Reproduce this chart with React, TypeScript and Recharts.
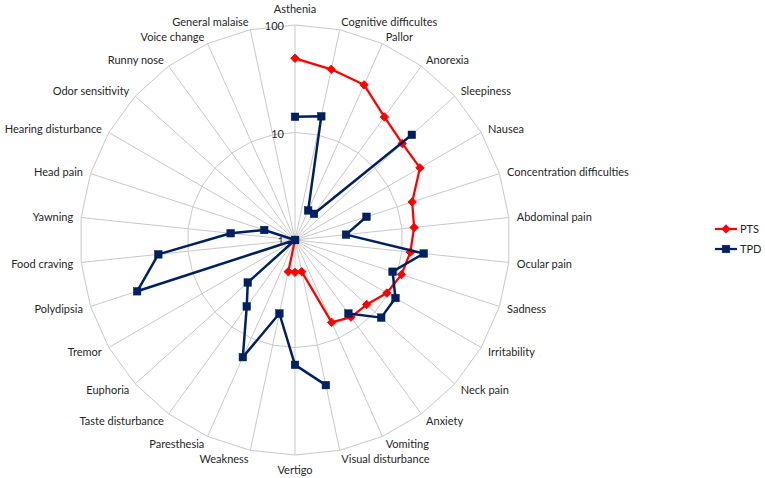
import React from 'react';
import { RadarChart, Radar, PolarGrid, PolarAngleAxis, PolarRadiusAxis, Legend } from 'recharts';

const symptoms = [
  'Asthenia', 'Cognitive difficultes', 'Pallor', 'Anorexia', 'Sleepiness', 'Nausea',
  'Concentration difficulties', 'Abdominal pain', 'Ocular pain', 'Sadness', 'Irritability',
  'Neck pain', 'Anxiety', 'Vomiting', 'Visual disturbance', 'Vertigo', 'Weakness',
  'Paresthesia', 'Taste disturbance', 'Euphoria', 'Tremor', 'Polydipsia', 'Food craving',
  'Yawning', 'Head pain', 'Hearing disturbance', 'Odor sensitivity', 'Runny nose',
  'Voice change', 'General malaise',
];

const ptsValues: (number | null)[] = [
  49, 42, 38, 26, 22, 22, 14, 13, 12, 11, 9.7, 7.9, 7.7, 6.9, 2, 2, 2, 1,
  null, null, null, null, null, null, null, null, null, null, null, null,
];

const tpdValues: (number | null)[] = [
  14, 15, 2, 2, 29, null, 5, 3, 16, 9, 12, 12, 7, null, 24, 14.5, 5, 15.6,
  5.8, 3.9, 1, 35, 19, 4, 2, 1, null, null, null, null,
];

const radiusTickLabels = [1, 10, 100];

const seriesNames = ['PTS', 'TPD'];
const seriesColors = ['#ff0000', '#002060'];
const seriesMarkers = ['diamond', 'square'];

const toLog = (v: number | null) => (v == null ? null : Math.log10(v));

const data = symptoms.map((name, i) => ({
  name,
  PTS: toLog(ptsValues[i]),
  TPD: toLog(tpdValues[i]),
}));

const FONT = 'Lato, "Liberation Sans", sans-serif';
const TEXT_COLOR = '#262626';

function Marker({ x, y, kind, color }: { x: number; y: number; kind: string; color: string }) {
  if (kind === 'diamond') {
    const r = 4.2;
    return <polygon points={`${x},${y - r} ${x + r},${y} ${x},${y + r} ${x - r},${y}`} fill={color} stroke={color} strokeWidth={1} />;
  }
  const h = 3.8;
  return <rect x={x - h} y={y - h} width={h * 2} height={h * 2} fill={color} stroke={color} strokeWidth={0.5} />;
}

function makeShape(color: string, kind: string, width: number) {
  return (props: any) => {
    const pts: any[] = props.points || [];
    const valid = pts.map((p) => p && p.value != null && isFinite(p.x) && isFinite(p.y));
    const segs: any[][] = [];
    let cur: any[] = [];
    pts.forEach((p, i) => {
      if (valid[i]) cur.push(p);
      else {
        if (cur.length) segs.push(cur);
        cur = [];
      }
    });
    if (cur.length) segs.push(cur);
    if (segs.length > 1 && valid[0] && valid[pts.length - 1]) {
      const last = segs.pop() as any[];
      segs[0] = [...last, ...segs[0]];
    } else if (segs.length === 1 && valid.every(Boolean)) {
      segs[0] = [...segs[0], segs[0][0]];
    }
    return (
      <g>
        {segs.filter((s) => s.length > 1).map((s, i) => (
          <polyline
            key={i}
            points={s.map((p) => `${p.x},${p.y}`).join(' ')}
            fill="none"
            stroke={color}
            strokeWidth={width}
            strokeLinejoin="round"
          />
        ))}
        {pts.map((p, i) => (valid[i] ? <Marker key={`m${i}`} x={p.x} y={p.y} kind={kind} color={color} /> : null))}
      </g>
    );
  };
}

const AngleTick = (props: any) => {
  const { x, y, payload } = props;
  const ang = (payload.coordinate * Math.PI) / 180;
  const c = Math.cos(ang);
  const s = Math.sin(ang);
  const vertical = Math.abs(c) < 1e-3;
  const anchor = vertical ? 'middle' : c > 0 ? 'start' : 'end';
  const dy = vertical ? (s > 0 ? -9 : 6) : 0;
  return (
    <text x={x} y={y + dy} textAnchor={anchor} dominantBaseline="central" fontSize={11} fontFamily={FONT} fill={TEXT_COLOR}>
      {payload.value}
    </text>
  );
};

const RadiusTick = (props: any) => {
  const { x, y, payload } = props;
  const label = radiusTickLabels.find((t) => Math.abs(Math.log10(t) - payload.value) < 1e-6);
  return (
    <text x={x - 11} y={y + 0.5} textAnchor="end" dominantBaseline="central" fontSize={11} fontFamily={FONT} fill={TEXT_COLOR}>
      {label ?? ''}
    </text>
  );
};

const LegendContent = (props: any) => {
  const payload: any[] = props.payload || [];
  return (
    <div>
      {payload.map((e, i) => {
        const idx = seriesNames.indexOf(e.value);
        const color = seriesColors[idx] ?? e.color;
        const kind = seriesMarkers[idx] ?? 'square';
        return (
          <div key={i} style={{ display: 'flex', alignItems: 'center', height: 20 }}>
            <svg width={25} height={12} style={{ display: 'block' }}>
              <line x1={0} x2={22} y1={6} y2={6} stroke={color} strokeWidth={2.25} />
              <Marker x={11} y={6} kind={kind} color={color} />
            </svg>
            <span style={{ fontSize: 11, fontFamily: FONT, color: TEXT_COLOR, lineHeight: '12px' }}>{e.value}</span>
          </div>
        );
      })}
    </div>
  );
};

export default function App() {
  return (
    <div style={{ position: 'absolute', left: 0, top: 0, width: 765, height: 478, background: '#fff' }}>
      <RadarChart
        width={765}
        height={478}
        data={data}
        cx={295}
        cy={240}
        outerRadius={215}
        startAngle={90}
        endAngle={-270}
        margin={{ top: 0, right: 0, bottom: 0, left: 0 }}
      >
        <PolarGrid gridType="polygon" stroke="#c8c8c8" strokeWidth={1} />
        <PolarAngleAxis dataKey="name" tick={<AngleTick />} tickLine={false} axisLine={false} />
        <PolarRadiusAxis
          angle={90}
          type="number"
          domain={[0, 2]}
          ticks={radiusTickLabels.map((t) => Math.log10(t)) as any}
          tickCount={3}
          tick={<RadiusTick />}
          tickLine={false}
          axisLine={false}
        />
        {seriesNames.map((name, i) => (
          <Radar
            key={name}
            name={name}
            dataKey={name}
            stroke={seriesColors[i]}
            fill="none"
            dot={false}
            isAnimationActive={false}
            shape={makeShape(seriesColors[i], seriesMarkers[i], i === 0 ? 2.25 : 2.5)}
          />
        ))}
        <Legend
          layout="vertical"
          align="right"
          verticalAlign="middle"
          content={<LegendContent />}
          wrapperStyle={{ left: 715, top: 219, width: 50, right: 'auto', bottom: 'auto' }}
        />
      </RadarChart>
    </div>
  );
}
